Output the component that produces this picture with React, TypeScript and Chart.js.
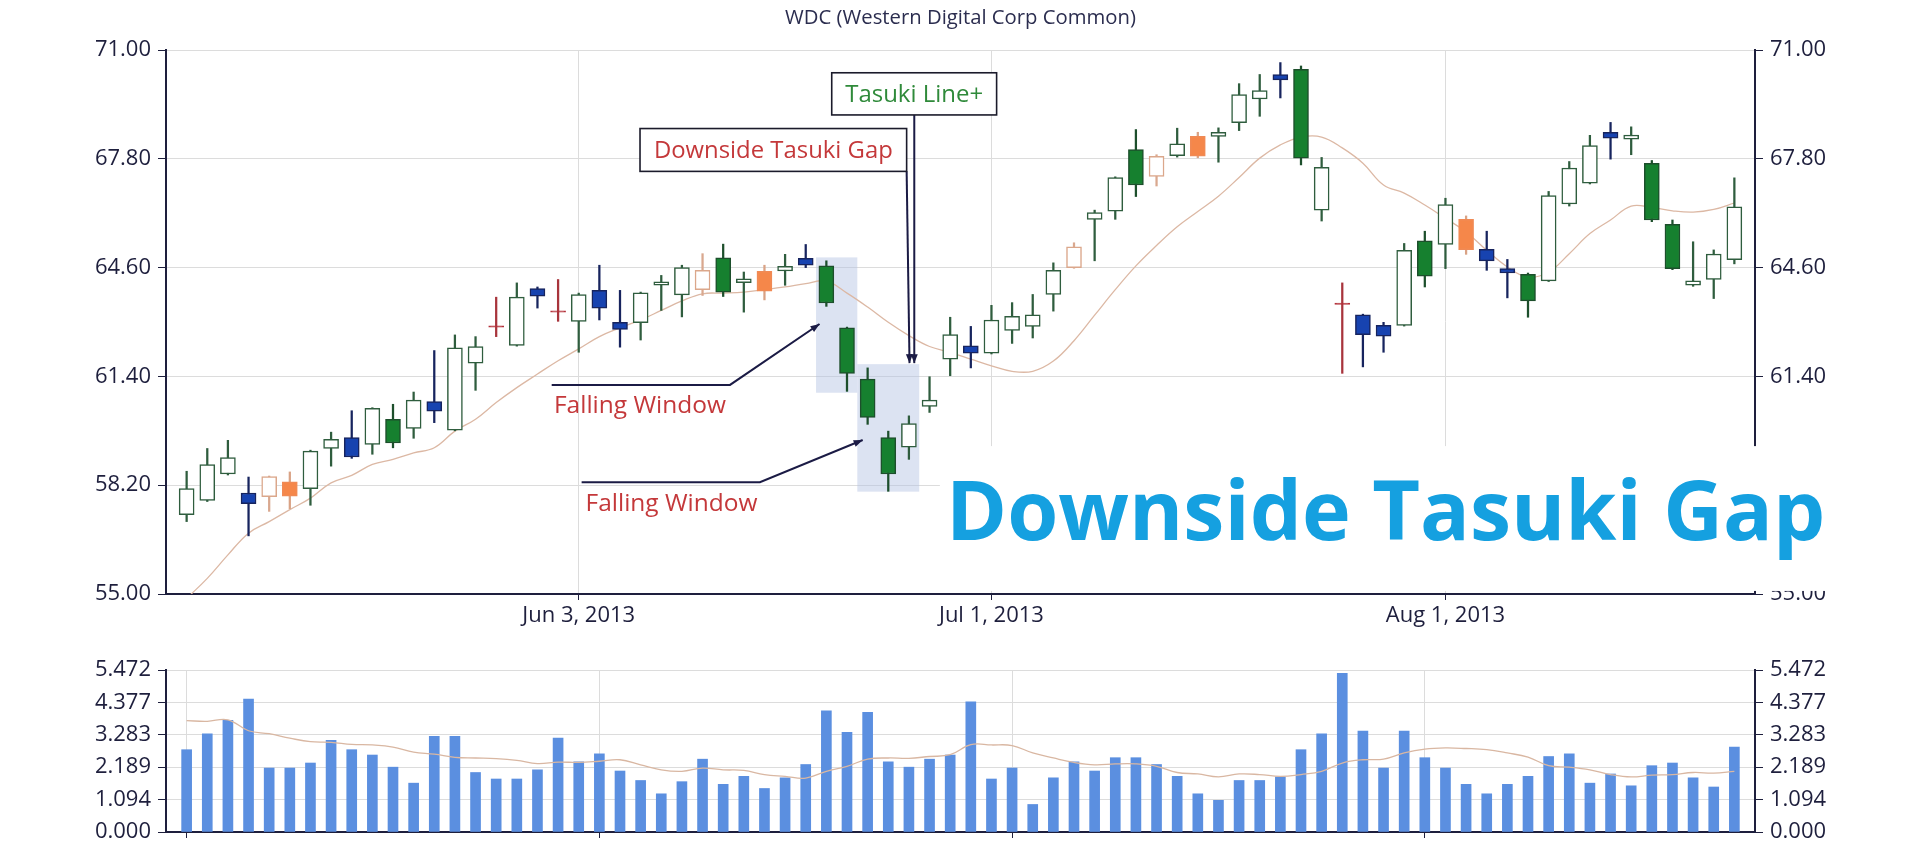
import React, { useEffect, useRef } from 'react';
import { Chart, registerables } from 'chart.js';

Chart.register(...registerables);

// ---------------- DATA ----------------
const dates = [
  '2013-05-06', '2013-05-07', '2013-05-08', '2013-05-09', '2013-05-10',
  '2013-05-13', '2013-05-14', '2013-05-15', '2013-05-16', '2013-05-17',
  '2013-05-20', '2013-05-21', '2013-05-22', '2013-05-23', '2013-05-24',
  '2013-05-28', '2013-05-29', '2013-05-30', '2013-05-31',
  '2013-06-03', '2013-06-04', '2013-06-05', '2013-06-06', '2013-06-07',
  '2013-06-10', '2013-06-11', '2013-06-12', '2013-06-13', '2013-06-14',
  '2013-06-17', '2013-06-18', '2013-06-19', '2013-06-20', '2013-06-21',
  '2013-06-24', '2013-06-25', '2013-06-26', '2013-06-27', '2013-06-28',
  '2013-07-01', '2013-07-02', '2013-07-03', '2013-07-05',
  '2013-07-08', '2013-07-09', '2013-07-10', '2013-07-11', '2013-07-12',
  '2013-07-15', '2013-07-16', '2013-07-17', '2013-07-18', '2013-07-19',
  '2013-07-22', '2013-07-23', '2013-07-24', '2013-07-25', '2013-07-26',
  '2013-07-29', '2013-07-30', '2013-07-31',
  '2013-08-01', '2013-08-02',
  '2013-08-05', '2013-08-06', '2013-08-07', '2013-08-08', '2013-08-09',
  '2013-08-12', '2013-08-13', '2013-08-14', '2013-08-15', '2013-08-16',
  '2013-08-19', '2013-08-20', '2013-08-21',
];

const opens = [
  57.33, 57.75, 58.53, 57.97, 57.86, 58.30, 58.10, 59.28, 59.60, 59.40,
  60.14, 59.87, 60.66, 59.82, 61.79, 62.87, 62.31, 63.98, 63.31, 63.02,
  63.93, 62.99, 62.98, 64.08, 63.80, 63.95, 64.89, 64.16, 64.49, 64.50,
  64.87, 64.65, 62.83, 61.32, 59.60, 59.32, 60.52, 61.91, 62.30, 62.08,
  62.75, 62.87, 63.81, 64.60, 66.02, 66.26, 68.07, 67.28, 67.89, 68.46,
  68.46, 68.86, 69.56, 70.28, 70.43, 66.29, 63.54, 63.21, 62.90, 62.90,
  65.39, 65.28, 66.02, 65.14, 64.57, 64.40, 64.21, 66.47, 67.08, 68.58,
  68.38, 67.67, 65.87, 64.08, 64.25, 64.83,
];
const highs = [
  58.61, 59.28, 59.52, 58.44, 58.47, 58.59, 59.23, 59.76, 60.39, 60.48,
  60.58, 60.94, 62.16, 62.62, 62.57, 63.73, 64.15, 64.03, 64.25, 63.85,
  64.67, 63.93, 63.88, 64.37, 64.67, 65.01, 65.29, 64.47, 64.67, 64.99,
  65.28, 64.80, 62.85, 61.65, 59.79, 60.24, 61.39, 63.14, 62.87, 63.49,
  63.57, 63.81, 64.74, 65.33, 66.29, 67.27, 68.66, 67.92, 68.70, 68.58,
  68.71, 70.01, 70.28, 70.63, 70.53, 67.84, 64.15, 63.23, 62.99, 65.31,
  65.67, 66.64, 66.12, 65.67, 64.84, 64.44, 66.84, 67.72, 68.49, 68.87,
  68.74, 67.75, 66.00, 65.36, 65.12, 67.24,
];
const lows = [
  57.13, 57.72, 58.50, 56.71, 57.43, 57.51, 57.61, 58.76, 58.99, 59.11,
  59.30, 59.58, 60.04, 59.80, 60.99, 62.57, 62.29, 63.41, 63.02, 62.11,
  63.06, 62.26, 62.47, 63.34, 63.15, 63.78, 63.75, 63.29, 63.65, 64.08,
  64.60, 63.46, 60.96, 59.99, 58.02, 58.96, 60.34, 61.42, 61.65, 62.06,
  62.37, 62.53, 63.32, 64.58, 64.80, 66.02, 66.69, 67.00, 67.85, 67.83,
  67.70, 68.63, 69.05, 69.59, 67.62, 65.97, 61.49, 61.68, 62.11, 62.88,
  64.03, 64.57, 64.99, 64.52, 63.71, 63.14, 64.19, 66.41, 67.06, 67.79,
  67.92, 65.95, 64.54, 64.05, 63.69, 64.71,
];
const closes = [
  58.10, 58.81, 59.01, 57.66, 58.45, 57.88, 59.20, 59.55, 59.03, 60.46,
  59.44, 60.70, 60.38, 62.24, 62.28, 62.87, 63.73, 63.76, 63.31, 63.81,
  63.41, 62.78, 63.86, 64.18, 64.60, 64.52, 63.88, 64.27, 63.91, 64.64,
  64.67, 63.56, 61.49, 60.19, 58.53, 60.01, 60.70, 62.63, 62.08, 63.06,
  63.17, 63.21, 64.52, 65.21, 66.22, 67.25, 67.03, 67.87, 68.24, 67.88,
  68.58, 69.69, 69.81, 70.12, 67.82, 67.55, 63.54, 62.63, 62.58, 65.11,
  64.35, 66.45, 65.13, 64.80, 64.44, 63.62, 66.72, 67.53, 68.19, 68.41,
  68.50, 66.00, 64.57, 64.21, 65.00, 66.39,
];
// pattern category of each candle: U hollow up, G green, B blue, O orange, T tan hollow, R doji
const candleKinds = (
  'UUUBTOUUBU' + 'GUBUURUBRU' + 'BBUUUTGUOU' + 'BGGGGUUUBU' +
  'UUUTUUGTUO' + 'UUUBGURBBU' + 'GUOBBGUUUB' + 'UGGUUU'
).split('');

const priceMA = [
  54.87, 55.46, 56.15, 56.79, 57.13, 57.48, 57.82, 58.27, 58.49, 58.81,
  58.96, 59.15, 59.30, 59.79, 60.14, 60.63, 61.07, 61.47, 61.86, 62.21,
  62.57, 62.83, 63.06, 63.34, 63.62, 63.83, 63.85, 63.88, 63.95, 64.03,
  64.13, 64.20, 63.85, 63.44, 62.99, 62.60, 62.28, 62.11, 61.91, 61.71,
  61.55, 61.55, 61.85, 62.45, 63.20, 63.95, 64.65, 65.25, 65.80, 66.25,
  66.70, 67.25, 67.82, 68.21, 68.44, 68.44, 68.12, 67.67, 67.03, 66.79,
  66.44, 66.05, 65.65, 65.11, 64.62, 64.32, 64.47, 65.01, 65.60, 66.00,
  66.41, 66.37, 66.27, 66.23, 66.31, 66.50,
];

const volumes = [
  2.78, 3.32, 3.77, 4.49, 2.16, 2.16, 2.33, 3.10, 2.78, 2.60,
  2.19, 1.65, 3.23, 3.23, 2.01, 1.79, 1.79, 2.10, 3.17, 2.37,
  2.64, 2.06, 1.74, 1.29, 1.70, 2.46, 1.61, 1.88, 1.47, 1.83,
  2.28, 4.09, 3.37, 4.04, 2.37, 2.19, 2.46, 2.60, 4.40, 1.79,
  2.16, 0.93, 1.83, 2.37, 2.06, 2.51, 2.51, 2.28, 1.88, 1.29,
  1.07, 1.74, 1.74, 1.86, 2.78, 3.32, 5.36, 3.41, 2.16, 3.41,
  2.51, 2.16, 1.61, 1.29, 1.61, 1.88, 2.55, 2.64, 1.65, 1.96,
  1.56, 2.24, 2.33, 1.83, 1.52, 2.87,
];
const volumeMA = [
  3.76, 3.74, 3.79, 3.42, 3.32, 3.17, 3.05, 3.03, 2.96, 2.94,
  2.87, 2.70, 2.63, 2.52, 2.50, 2.48, 2.42, 2.31, 2.36, 2.35,
  2.39, 2.44, 2.27, 2.10, 2.05, 2.16, 2.10, 2.08, 1.94, 1.88,
  1.82, 2.05, 2.22, 2.46, 2.50, 2.49, 2.55, 2.61, 2.95, 2.94,
  2.92, 2.67, 2.50, 2.35, 2.27, 2.30, 2.30, 2.22, 2.01, 1.96,
  1.86, 1.96, 1.94, 1.88, 1.94, 2.05, 2.33, 2.44, 2.46, 2.67,
  2.80, 2.84, 2.82, 2.78, 2.67, 2.53, 2.24, 2.19, 2.10, 1.94,
  1.86, 1.92, 1.94, 2.01, 1.99, 2.05,
];

const priceTicks = [55, 58.2, 61.4, 64.6, 67.8, 71];
const volumeTicks = [0, 1.094, 2.189, 3.283, 4.377, 5.472];
const volumeTickLabels = ['0.000', '1.094', '2.189', '3.283', '4.377', '5.472'];
const xTickDates = ['2013-06-03', '2013-07-01', '2013-08-01'];
const xTickLabels = ['Jun 3, 2013', 'Jul 1, 2013', 'Aug 1, 2013'];
const volumeTickDates = ['2013-05-06', '2013-06-04', '2013-07-02', '2013-07-31'];

const chartTitle = 'WDC (Western Digital Corp Common)';
const bigTitle = 'Downside Tasuki Gap';

// annotations in data units (candle index, price)
const shadedBoxes = [
  { i0: 30.5, i1: 32.5, pTop: 64.9, pBottom: 60.92 },
  { i0: 32.5, i1: 35.5, pTop: 61.76, pBottom: 58.01 },
];
const fallingWindows = [
  { text: 'Falling Window', start: [17.69, 61.15], elbow: [26.33, 61.15], tip: [30.67, 62.94], label: [17.8, 60.54] },
  { text: 'Falling Window', start: [19.14, 58.29], elbow: [27.78, 58.29], tip: [32.76, 59.53], label: [19.33, 57.66] },
];
const calloutBoxes = [
  { text: 'Downside Tasuki Gap', color: '#c4383a', i0: 21.97, i1: 34.89, pTop: 68.69, pBottom: 67.43, from: [34.89, 67.43], to: [35.03, 61.79] },
  { text: 'Tasuki Line+', color: '#2f8a3a', i0: 31.26, i1: 39.25, pTop: 70.33, pBottom: 69.09, from: [35.26, 69.09], to: [35.26, 61.79] },
];
const bannerArea = { i0: 36.5, pTop: 59.35, pBottom: 55.09, textI: 36.8, textP: 56.6, textEndI: 79.4 };

// ---------------- STYLE ----------------
const FONT = 'Open Sans';
const TEXT = '#1e1f3d';
const GRID = '#dcdcdc';
const kindStyle: Record<string, { fill: string; border: string; wick: string }> = {
  U: { fill: '#ffffff', border: '#2f5d3e', wick: '#2f5d3e' },
  T: { fill: '#ffffff', border: '#dba78b', wick: '#d9a88f' },
  G: { fill: '#16802f', border: '#1d4f2c', wick: '#1d4f2c' },
  B: { fill: '#1743b0', border: '#17245e', wick: '#17245e' },
  O: { fill: '#f5874a', border: '#f08a55', wick: '#d9a285' },
  R: { fill: '#b3303a', border: '#b3303a', wick: '#a8343c' },
};

function fitSize(ctx: CanvasRenderingContext2D, text: string, weight: string, width: number) {
  ctx.font = `${weight} 100px "${FONT}"`;
  const w = ctx.measureText(text).width;
  return (100 * width) / w;
}

function arrowHead(ctx: CanvasRenderingContext2D, fx: number, fy: number, tx: number, ty: number, len: number, hw: number) {
  const a = Math.atan2(ty - fy, tx - fx);
  const c = Math.cos(a), s = Math.sin(a);
  ctx.beginPath();
  ctx.moveTo(tx, ty);
  ctx.lineTo(tx - len * c + hw * s, ty - len * s - hw * c);
  ctx.lineTo(tx - len * c - hw * s, ty - len * s + hw * c);
  ctx.closePath();
  ctx.fill();
}

const annotationPlugin = {
  id: 'tasukiAnnotations',
  beforeDatasetsDraw(chart: any) {
    const { ctx, scales } = chart;
    const X = (v: number) => scales.x.getPixelForValue(v);
    const Y = (v: number) => scales.y.getPixelForValue(v);
    ctx.save();
    ctx.fillStyle = 'rgba(178,192,226,0.45)';
    for (const b of shadedBoxes) {
      ctx.fillRect(X(b.i0), Y(b.pTop), X(b.i1) - X(b.i0), Y(b.pBottom) - Y(b.pTop));
    }
    ctx.restore();
  },
  afterDraw(chart: any) {
    const { ctx, scales, chartArea } = chart;
    const X = (v: number) => scales.x.getPixelForValue(v);
    const Y = (v: number) => scales.y.getPixelForValue(v);
    ctx.save();

    // falling windows
    for (const f of fallingWindows) {
      ctx.strokeStyle = '#1b1b45';
      ctx.fillStyle = '#1b1b45';
      ctx.lineWidth = 2;
      ctx.beginPath();
      ctx.moveTo(X(f.start[0]), Y(f.start[1]));
      ctx.lineTo(X(f.elbow[0]), Y(f.elbow[1]));
      ctx.lineTo(X(f.tip[0]), Y(f.tip[1]));
      ctx.stroke();
      arrowHead(ctx, X(f.elbow[0]), Y(f.elbow[1]), X(f.tip[0]), Y(f.tip[1]), 9, 3.5);
      const size = fitSize(ctx, f.text, 'normal', 172);
      ctx.font = `normal ${size}px "${FONT}"`;
      ctx.fillStyle = '#c4383a';
      ctx.textAlign = 'left';
      ctx.textBaseline = 'middle';
      ctx.fillText(f.text, X(f.label[0]), Y(f.label[1]));
    }

    // callout boxes with arrows
    for (const c of calloutBoxes) {
      ctx.strokeStyle = '#1b1b45';
      ctx.fillStyle = '#1b1b45';
      ctx.lineWidth = 2;
      const fx = X(c.from[0]), fy = Y(c.from[1]), tx = X(c.to[0]), ty = Y(c.to[1]);
      ctx.beginPath();
      ctx.moveTo(fx, fy);
      ctx.lineTo(tx, ty);
      ctx.stroke();
      arrowHead(ctx, fx, fy, tx, ty, 9, 3.5);
    }
    for (const c of calloutBoxes) {
      const x0 = X(c.i0), x1 = X(c.i1), y0 = Y(c.pTop), y1 = Y(c.pBottom);
      ctx.fillStyle = '#ffffff';
      ctx.fillRect(x0, y0, x1 - x0, y1 - y0);
      ctx.strokeStyle = '#1b1b2b';
      ctx.lineWidth = 1.6;
      ctx.strokeRect(x0, y0, x1 - x0, y1 - y0);
      const target = c.text === 'Tasuki Line+' ? 138 : 239;
      const size = fitSize(ctx, c.text, 'normal', target);
      ctx.font = `normal ${size}px "${FONT}"`;
      ctx.fillStyle = c.color;
      ctx.textAlign = 'center';
      ctx.textBaseline = 'middle';
      ctx.fillText(c.text, (x0 + x1) / 2, (y0 + y1) / 2 + 1);
    }

    // banner
    const bx = X(bannerArea.i0), by0 = Y(bannerArea.pTop), by1 = Y(bannerArea.pBottom);
    ctx.fillStyle = '#ffffff';
    ctx.fillRect(bx, by0, chart.width - bx, by1 - by0);
    const capSize = 83;
    ctx.font = `bold ${capSize}px "${FONT}"`;
    const tw = ctx.measureText(bigTitle).width;
    const tx = X(bannerArea.textI);
    const targetW = X(bannerArea.textEndI) - tx;
    ctx.translate(tx, Y(bannerArea.textP));
    ctx.scale(targetW / tw, 1);
    ctx.fillStyle = '#15a0e0';
    ctx.textAlign = 'left';
    ctx.textBaseline = 'alphabetic';
    ctx.fillText(bigTitle, 0, 0);
    ctx.setTransform(1, 0, 0, 1, 0, 0);

    // title
    const ts = fitSize(ctx, chartTitle, 'normal', 351);
    ctx.font = `normal ${ts}px "${FONT}"`;
    ctx.fillStyle = '#2b2d4f';
    ctx.textAlign = 'center';
    ctx.textBaseline = 'middle';
    ctx.fillText(chartTitle, (chartArea.left + chartArea.right) / 2, 18);
    ctx.restore();
  },
};

const tickFont = { family: FONT, size: 22 };

export default function App() {
  const priceRef = useRef<HTMLCanvasElement>(null);
  const volRef = useRef<HTMLCanvasElement>(null);

  useEffect(() => {
    document.body.style.margin = '0';
    document.body.style.overflow = 'hidden';
    const xTickIdx = xTickDates.map((d) => dates.indexOf(d));
    const volTickIdx = volumeTickDates.map((d) => dates.indexOf(d));

    const bodyData = opens.map((o, i) => {
      const c = closes[i];
      const y = candleKinds[i] === 'R' ? [c - 0.02, c + 0.02] : [o, c];
      return { x: i, y };
    });
    const wickData = lows.map((l, i) => ({ x: i, y: [l, highs[i]] }));

    const priceChart = new Chart(priceRef.current as HTMLCanvasElement, {
      type: 'bar',
      data: {
        datasets: [
          {
            type: 'line',
            data: priceMA.map((v, i) => ({ x: i, y: v })),
            borderColor: '#dcb8a4',
            borderWidth: 1.3,
            pointRadius: 0,
            tension: 0.4,
            order: 3,
          } as any,
          {
            type: 'bar',
            data: wickData,
            backgroundColor: candleKinds.map((k) => kindStyle[k].wick),
            barThickness: 1.6,
            grouped: false,
            order: 2,
          } as any,
          {
            type: 'bar',
            data: bodyData,
            backgroundColor: candleKinds.map((k) => kindStyle[k].fill),
            borderColor: candleKinds.map((k) => kindStyle[k].border),
            borderWidth: 1.5,
            borderSkipped: false,
            barThickness: 15,
            grouped: false,
            order: 1,
          } as any,
        ],
      },
      options: {
        responsive: false,
        devicePixelRatio: 1,
        animation: false,
        layout: { padding: { top: 50, left: 0, right: 0, bottom: 0 } },
        plugins: { legend: { display: false }, tooltip: { enabled: false }, title: { display: false } },
        scales: {
          x: {
            type: 'linear',
            min: -1,
            max: 76,
            offset: false,
            afterBuildTicks: (s: any) => { s.ticks = xTickIdx.map((v) => ({ value: v })); },
            afterFit: (s: any) => { s.height = 46; },
            grid: { color: GRID, lineWidth: 1, offset: false, tickLength: 6, tickColor: TEXT },
            border: { color: TEXT, width: 2 },
            ticks: {
              autoSkip: false,
              maxRotation: 0,
              color: TEXT,
              font: tickFont,
              padding: 3,
              callback: (v: any) => { const k = xTickIdx.indexOf(Number(v)); return k >= 0 ? xTickLabels[k] : ''; },
            },
          },
          y: {
            type: 'linear',
            position: 'left',
            min: 55,
            max: 71,
            afterBuildTicks: (s: any) => { s.ticks = priceTicks.map((v) => ({ value: v })); },
            afterFit: (s: any) => { s.width = 166; },
            grid: { color: GRID, lineWidth: 1, tickLength: 8, tickColor: TEXT },
            border: { color: TEXT, width: 2 },
            ticks: { color: TEXT, font: tickFont, padding: 7, callback: (v: any) => Number(v).toFixed(2) },
          },
          y2: {
            type: 'linear',
            position: 'right',
            min: 55,
            max: 71,
            afterBuildTicks: (s: any) => { s.ticks = priceTicks.map((v) => ({ value: v })); },
            afterFit: (s: any) => { s.width = 166; },
            grid: { drawOnChartArea: false, tickLength: 8, tickColor: TEXT },
            border: { color: TEXT, width: 2 },
            ticks: { color: TEXT, font: tickFont, padding: 7, callback: (v: any) => Number(v).toFixed(2) },
          },
        } as any,
      },
      plugins: [annotationPlugin],
    } as any);

    const volChart = new Chart(volRef.current as HTMLCanvasElement, {
      type: 'bar',
      data: {
        datasets: [
          {
            type: 'line',
            data: volumeMA.map((v, i) => ({ x: i, y: v })),
            borderColor: '#d9b7a2',
            borderWidth: 1.3,
            pointRadius: 0,
            tension: 0.4,
            order: 0,
          } as any,
          {
            type: 'bar',
            data: volumes.map((v, i) => ({ x: i, y: v })),
            backgroundColor: '#5b8fe0',
            barThickness: 10,
            grouped: false,
            order: 1,
          } as any,
        ],
      },
      options: {
        responsive: false,
        devicePixelRatio: 1,
        animation: false,
        layout: { padding: { top: 30, left: 0, right: 0, bottom: 0 } },
        plugins: { legend: { display: false }, tooltip: { enabled: false } },
        scales: {
          x: {
            type: 'linear',
            min: -1,
            max: 76,
            offset: false,
            afterBuildTicks: (s: any) => { s.ticks = volTickIdx.map((v) => ({ value: v })); },
            afterFit: (s: any) => { s.height = 34; },
            grid: { color: GRID, lineWidth: 1, offset: false, tickLength: 6, tickColor: TEXT },
            border: { color: TEXT, width: 2 },
            ticks: { autoSkip: false, maxRotation: 0, font: tickFont, callback: () => '' },
          },
          y: {
            type: 'linear',
            position: 'left',
            min: 0,
            max: 5.472,
            afterBuildTicks: (s: any) => { s.ticks = volumeTicks.map((v) => ({ value: v })); },
            afterFit: (s: any) => { s.width = 166; },
            grid: { color: GRID, lineWidth: 1, tickLength: 8, tickColor: TEXT },
            border: { color: TEXT, width: 2 },
            ticks: { color: TEXT, font: tickFont, padding: 7, callback: (v: any) => volumeTickLabels[volumeTicks.indexOf(Number(v))] },
          },
          y2: {
            type: 'linear',
            position: 'right',
            min: 0,
            max: 5.472,
            afterBuildTicks: (s: any) => { s.ticks = volumeTicks.map((v) => ({ value: v })); },
            afterFit: (s: any) => { s.width = 166; },
            grid: { drawOnChartArea: false, tickLength: 8, tickColor: TEXT },
            border: { color: TEXT, width: 2 },
            ticks: { color: TEXT, font: tickFont, padding: 7, callback: (v: any) => volumeTickLabels[volumeTicks.indexOf(Number(v))] },
          },
        } as any,
      },
    } as any);

    return () => {
      priceChart.destroy();
      volChart.destroy();
    };
  }, []);

  return (
    <div style={{ position: 'absolute', left: 0, top: 0, width: 1921, height: 866, background: '#ffffff', overflow: 'hidden' }}>
      <canvas ref={priceRef} width={1921} height={640} style={{ position: 'absolute', left: 0, top: 0, width: 1921, height: 640 }} />
      <canvas ref={volRef} width={1921} height={226} style={{ position: 'absolute', left: 0, top: 640, width: 1921, height: 226 }} />
    </div>
  );
}
